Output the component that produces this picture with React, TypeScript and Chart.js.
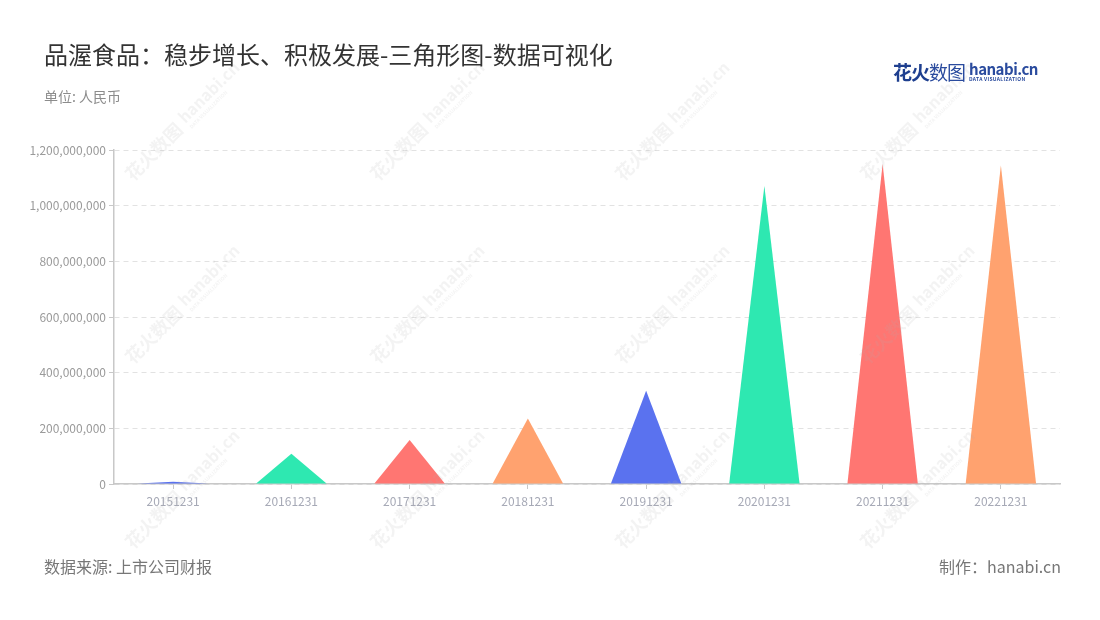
import React, { useEffect, useRef } from "react";
import { Chart, registerables } from "chart.js";

Chart.register(...registerables);

const categories = ["20151231", "20161231", "20171231", "20181231", "20191231", "20201231", "20211231", "20221231"];
const revenue = [8500000, 109000000, 158000000, 235000000, 335000000, 1071000000, 1150000000, 1145000000];
const colors = ["#5a72ef", "#2ee8b1", "#ff7672", "#ffa26f", "#5a72ef", "#2ee8b1", "#ff7672", "#ffa26f"];
const yTicks = [0, 200000000, 400000000, 600000000, 800000000, 1000000000, 1200000000];

const FONT = "'Noto Sans CJK SC', 'Noto Sans', sans-serif";

const trianglePlugin = {
  id: "triangles",
  beforeDatasetsDraw(chart: any) {
    const ctx = chart.ctx;
    const meta = chart.getDatasetMeta(0);
    ctx.save();
    meta.data.forEach((el: any) => {
      const { x, y, base, width } = el.getProps(["x", "y", "base", "width"], true);
      ctx.beginPath();
      ctx.moveTo(x - width / 2, base);
      ctx.lineTo(x, y);
      ctx.lineTo(x + width / 2, base);
      ctx.closePath();
      ctx.fillStyle = el.options.backgroundColor;
      ctx.fill();
    });
    ctx.restore();
    return false;
  },
};

const watermarkPlugin = {
  id: "watermark",
  afterDraw(chart: any) {
    const ctx = chart.ctx;
    const cols = [133, 378, 623, 868];
    const rows = [182, 365, 550];
    ctx.save();
    ctx.fillStyle = "rgba(175,175,175,0.15)";
    ctx.textBaseline = "alphabetic";
    ctx.textAlign = "left";
    cols.forEach((cx) => {
      rows.forEach((cy) => {
        ctx.save();
        ctx.translate(cx, cy);
        ctx.rotate(-Math.PI / 4);
        ctx.font = `bold 18px ${FONT}`;
        ctx.fillText("花火数图", 0, 0);
        ctx.font = `bold 16px ${FONT}`;
        ctx.fillText("hanabi.cn", 78, -4);
        ctx.font = `bold 5px ${FONT}`;
        ctx.fillText("DATA VISUALIZATION", 79, 4);
        ctx.restore();
      });
    });
    ctx.restore();
  },
};

export default function App() {
  const canvasRef = useRef<HTMLCanvasElement | null>(null);

  useEffect(() => {
    if (!canvasRef.current) return;
    const chart = new Chart(canvasRef.current, {
      type: "bar",
      data: {
        labels: categories,
        datasets: [
          {
            data: revenue,
            backgroundColor: colors,
            borderWidth: 0,
            categoryPercentage: 1,
            barPercentage: 0.595,
          },
        ],
      },
      options: {
        animation: false,
        responsive: false,
        maintainAspectRatio: false,
        layout: { padding: { left: 14, right: 40, top: 150, bottom: 106 } },
        plugins: { legend: { display: false }, tooltip: { enabled: false } },
        scales: {
          x: {
            afterFit: (s: any) => {
              s.height = 30;
            },
            grid: { display: true, drawOnChartArea: false, offset: false, tickLength: 5, tickColor: "#c8c8c8", color: "#c8c8c8" },
            border: { display: true, color: "#c8c8c8", width: 1.5 },
            ticks: { color: "#a6a9b6", font: { family: FONT, size: 12 }, padding: 5, maxRotation: 0 },
          },
          y: {
            min: 0,
            max: 1200000000,
            afterFit: (s: any) => {
              s.width = 100;
            },
            afterBuildTicks: (s: any) => {
              s.ticks = yTicks.map((v) => ({ value: v }));
            },
            grid: { color: "#e2e2e2", tickLength: 5, tickColor: "#c8c8c8", lineWidth: 1 },
            border: { display: true, color: "#c8c8c8", width: 1.5, dash: [5, 4] },
            ticks: {
              color: "#9a9a9a",
              font: { family: FONT, size: 12 },
              padding: 3,
              callback: (v: any) => Number(v).toLocaleString("en-US"),
            },
          },
        },
      },
      plugins: [trianglePlugin, watermarkPlugin],
    });
    return () => chart.destroy();
  }, []);

  return (
    <div style={{ position: "absolute", left: 0, top: 0, width: 1100, height: 620, background: "#fff", fontFamily: FONT, overflow: "hidden" }}>
      <canvas ref={canvasRef} width={1100} height={620} style={{ position: "absolute", left: 0, top: 0, width: 1100, height: 620 }} />
      <div style={{ position: "absolute", left: 44, top: 37, fontSize: 24, color: "#333", lineHeight: "34px", whiteSpace: "nowrap" }}>
        品渥食品：稳步增长、积极发展-三角形图-数据可视化
      </div>
      <div style={{ position: "absolute", left: 44, top: 86, fontSize: 14, color: "#8c8c8c", lineHeight: "20px" }}>单位: 人民币</div>
      <div style={{ position: "absolute", left: 893, top: 59, height: 24, display: "flex", alignItems: "center", whiteSpace: "nowrap" }}>
        <span style={{ fontSize: 19, color: "#1e3f8f", fontWeight: 700, letterSpacing: -1 }}>花火</span>
        <span style={{ fontSize: 19, color: "#2a4b9e", fontWeight: 400, letterSpacing: -1 }}>数图</span>
        <span style={{ display: "inline-flex", flexDirection: "column", marginLeft: 4, lineHeight: 1 }}>
          <span style={{ fontSize: 15, color: "#2a4b9e", fontWeight: 700, letterSpacing: -0.5 }}>hanabi.cn</span>
          <span style={{ fontSize: 5, color: "#2a4b9e", fontWeight: 700, letterSpacing: 0.3 }}>DATA VISUALIZATION</span>
        </span>
      </div>
      <div style={{ position: "absolute", left: 44, top: 555, fontSize: 16, color: "#777", lineHeight: "22px" }}>数据来源: 上市公司财报</div>
      <div style={{ position: "absolute", right: 39, top: 555, fontSize: 16, color: "#777", lineHeight: "22px" }}>制作：hanabi.cn</div>
    </div>
  );
}
